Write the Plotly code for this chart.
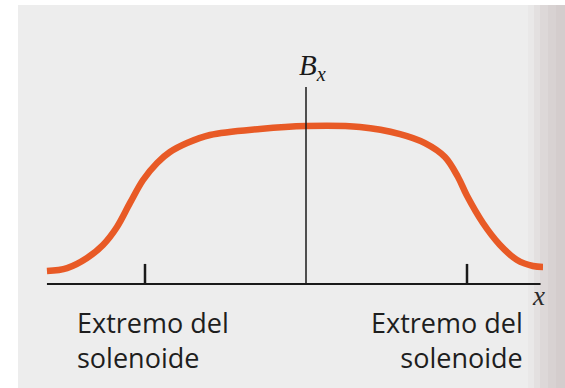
import plotly.graph_objects as go

# Position along the axis (solenoid ends at x = -1 and x = +1) and field B_x (peak = 1)
x_pos = [-1.609, -1.484, -1.360, -1.261, -1.174, -1.093, -1.012, -0.925, -0.845,
         -0.739, -0.596, -0.286, 0.0, 0.335, 0.584, 0.739, 0.863, 0.944,
         1.000, 1.099, 1.205, 1.311, 1.410, 1.472]
b_x = [0.082, 0.101, 0.165, 0.247, 0.361, 0.513, 0.658, 0.766, 0.835,
       0.892, 0.943, 0.981, 1.0, 0.994, 0.949, 0.892, 0.804, 0.677,
       0.558, 0.386, 0.247, 0.152, 0.114, 0.108]
end_ticks = [-1.0, 1.0]
end_label = "Extremo del<br>solenoide"
y_label = "<i>B</i><sub><i>x</i></sub>"
x_label = "<i>x</i>"

W, H = 565, 388
X_RANGE = [-1.9006, 1.6087]
Y_RANGE = [-0.658, 1.797]


def px(x):
    return x / W


def py(y):
    return 1 - y / H


fig = go.Figure()

fig.add_trace(go.Scatter(
    x=x_pos, y=b_x, mode="lines",
    line=dict(color="#e85a26", width=6.5, shape="spline", smoothing=1.0),
    hoverinfo="skip", showlegend=False,
))

shapes = []
shapes.append(dict(type="rect", xref="paper", yref="paper",
                   x0=px(18), x1=1, y0=0, y1=py(5),
                   fillcolor="#ededed", line=dict(width=0), layer="below"))
gutter = [(528, "#e9e8e8"), (534, "#e3e0e0"), (540, "#ddd8d8"),
          (548, "#d8d2d2"), (556, "#d4cdcd")]
for i, (x0, c) in enumerate(gutter):
    x1 = gutter[i + 1][0] if i + 1 < len(gutter) else W
    shapes.append(dict(type="rect", xref="paper", yref="paper",
                       x0=px(x0), x1=px(x1), y0=0, y1=py(5),
                       fillcolor=c, line=dict(width=0), layer="below"))

shapes.append(dict(type="line", xref="x", yref="y",
                   x0=min(x_pos), x1=1.457, y0=0, y1=0,
                   line=dict(color="#1a1a1a", width=2)))
shapes.append(dict(type="line", xref="x", yref="y",
                   x0=0, x1=0, y0=0, y1=1.247,
                   line=dict(color="#1a1a1a", width=1.5)))
for t in end_ticks:
    shapes.append(dict(type="line", xref="x", yref="y",
                       x0=t, x1=t, y0=0, y1=0.127,
                       line=dict(color="#1a1a1a", width=2.5)))

annotations = [
    dict(text=y_label, xref="x", yref="paper", x=0.04, y=py(67),
         xanchor="center", yanchor="middle", showarrow=False,
         font=dict(family="Liberation Serif, DejaVu Serif, serif", size=29, color="#1a1a1a")),
    dict(text=x_label, xref="paper", yref="paper", x=px(538), y=py(296),
         xanchor="center", yanchor="middle", showarrow=False,
         font=dict(family="Liberation Serif, DejaVu Serif, serif", size=27, color="#2a2a2a")),
    dict(text=end_label, xref="paper", yref="paper", x=px(75), y=py(302),
         xanchor="left", yanchor="top", align="left", showarrow=False,
         font=dict(family="Open Sans, Noto Sans, sans-serif", size=27, color="#1e1e1e")),
    dict(text=end_label, xref="paper", yref="paper", x=px(525), y=py(302),
         xanchor="right", yanchor="top", align="right", showarrow=False,
         font=dict(family="Open Sans, Noto Sans, sans-serif", size=27, color="#1e1e1e")),
]

fig.update_layout(
    width=W, height=H,
    margin=dict(l=0, r=0, t=0, b=0),
    paper_bgcolor="white", plot_bgcolor="rgba(0,0,0,0)",
    xaxis=dict(range=X_RANGE, visible=False, fixedrange=True),
    yaxis=dict(range=Y_RANGE, visible=False, fixedrange=True),
    shapes=shapes, annotations=annotations,
)

fig.write_html("out.html", config={"displayModeBar": False},
               post_script="document.body.style.margin='0';document.body.style.overflow='hidden';")
